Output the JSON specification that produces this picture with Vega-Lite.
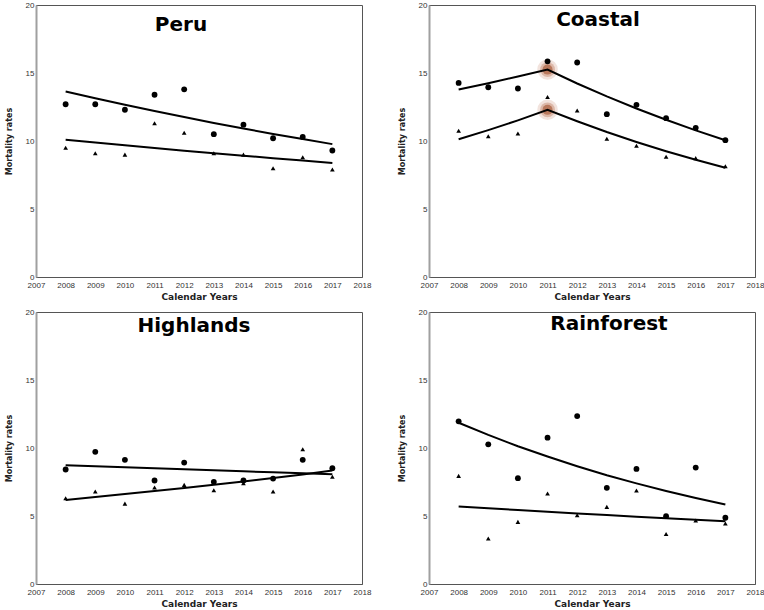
{
  "$schema": "https://vega.github.io/schema/vega-lite/v6.json",
  "padding": {"left": 4, "top": 0, "right": 5, "bottom": 3},
  "bounds": "flush",
  "columns": 2,
  "spacing": {"row": 35, "column": 67},
  "datasets": {
    "rates": [
      {"region":"Peru","year":2008,"series":"circle","rate":12.7,"fit":13.64},
      {"region":"Peru","year":2009,"series":"circle","rate":12.7,"fit":13.14},
      {"region":"Peru","year":2010,"series":"circle","rate":12.3,"fit":12.67},
      {"region":"Peru","year":2011,"series":"circle","rate":13.4,"fit":12.21},
      {"region":"Peru","year":2012,"series":"circle","rate":13.8,"fit":11.76},
      {"region":"Peru","year":2013,"series":"circle","rate":10.5,"fit":11.33},
      {"region":"Peru","year":2014,"series":"circle","rate":11.2,"fit":10.92},
      {"region":"Peru","year":2015,"series":"circle","rate":10.2,"fit":10.52},
      {"region":"Peru","year":2016,"series":"circle","rate":10.3,"fit":10.14},
      {"region":"Peru","year":2017,"series":"circle","rate":9.3,"fit":9.77},
      {"region":"Peru","year":2008,"series":"triangle","rate":9.5,"fit":10.09},
      {"region":"Peru","year":2009,"series":"triangle","rate":9.1,"fit":9.89},
      {"region":"Peru","year":2010,"series":"triangle","rate":9.0,"fit":9.68},
      {"region":"Peru","year":2011,"series":"triangle","rate":11.3,"fit":9.49},
      {"region":"Peru","year":2012,"series":"triangle","rate":10.6,"fit":9.29},
      {"region":"Peru","year":2013,"series":"triangle","rate":9.1,"fit":9.10},
      {"region":"Peru","year":2014,"series":"triangle","rate":9.0,"fit":8.92},
      {"region":"Peru","year":2015,"series":"triangle","rate":8.0,"fit":8.74},
      {"region":"Peru","year":2016,"series":"triangle","rate":8.8,"fit":8.56},
      {"region":"Peru","year":2017,"series":"triangle","rate":7.9,"fit":8.39},
      {"region":"Coastal","year":2008,"series":"circle","rate":14.27,"fit":13.78},
      {"region":"Coastal","year":2009,"series":"circle","rate":13.95,"fit":14.25},
      {"region":"Coastal","year":2010,"series":"circle","rate":13.86,"fit":14.74},
      {"region":"Coastal","year":2011,"series":"circle","rate":15.86,"fit":15.25},
      {"region":"Coastal","year":2012,"series":"circle","rate":15.77,"fit":14.23},
      {"region":"Coastal","year":2013,"series":"circle","rate":11.97,"fit":13.28},
      {"region":"Coastal","year":2014,"series":"circle","rate":12.66,"fit":12.39},
      {"region":"Coastal","year":2015,"series":"circle","rate":11.68,"fit":11.56},
      {"region":"Coastal","year":2016,"series":"circle","rate":10.97,"fit":10.78},
      {"region":"Coastal","year":2017,"series":"circle","rate":10.06,"fit":10.06},
      {"region":"Coastal","year":2008,"series":"triangle","rate":10.75,"fit":10.13},
      {"region":"Coastal","year":2009,"series":"triangle","rate":10.35,"fit":10.80},
      {"region":"Coastal","year":2010,"series":"triangle","rate":10.55,"fit":11.52},
      {"region":"Coastal","year":2011,"series":"triangle","rate":13.24,"fit":12.29},
      {"region":"Coastal","year":2012,"series":"triangle","rate":12.24,"fit":11.45},
      {"region":"Coastal","year":2013,"series":"triangle","rate":10.16,"fit":10.66},
      {"region":"Coastal","year":2014,"series":"triangle","rate":9.65,"fit":9.93},
      {"region":"Coastal","year":2015,"series":"triangle","rate":8.84,"fit":9.25},
      {"region":"Coastal","year":2016,"series":"triangle","rate":8.74,"fit":8.62},
      {"region":"Coastal","year":2017,"series":"triangle","rate":8.15,"fit":8.03},
      {"region":"Highlands","year":2008,"series":"circle","rate":8.42,"fit":8.74},
      {"region":"Highlands","year":2009,"series":"circle","rate":9.72,"fit":8.66},
      {"region":"Highlands","year":2010,"series":"circle","rate":9.13,"fit":8.59},
      {"region":"Highlands","year":2011,"series":"circle","rate":7.61,"fit":8.51},
      {"region":"Highlands","year":2012,"series":"circle","rate":8.93,"fit":8.44},
      {"region":"Highlands","year":2013,"series":"circle","rate":7.51,"fit":8.36},
      {"region":"Highlands","year":2014,"series":"circle","rate":7.61,"fit":8.29},
      {"region":"Highlands","year":2015,"series":"circle","rate":7.75,"fit":8.21},
      {"region":"Highlands","year":2016,"series":"circle","rate":9.13,"fit":8.14},
      {"region":"Highlands","year":2017,"series":"circle","rate":8.52,"fit":8.07},
      {"region":"Highlands","year":2008,"series":"triangle","rate":6.31,"fit":6.18},
      {"region":"Highlands","year":2009,"series":"triangle","rate":6.8,"fit":6.39},
      {"region":"Highlands","year":2010,"series":"triangle","rate":5.91,"fit":6.61},
      {"region":"Highlands","year":2011,"series":"triangle","rate":7.09,"fit":6.83},
      {"region":"Highlands","year":2012,"series":"triangle","rate":7.29,"fit":7.06},
      {"region":"Highlands","year":2013,"series":"triangle","rate":6.9,"fit":7.30},
      {"region":"Highlands","year":2014,"series":"triangle","rate":7.41,"fit":7.54},
      {"region":"Highlands","year":2015,"series":"triangle","rate":6.8,"fit":7.80},
      {"region":"Highlands","year":2016,"series":"triangle","rate":9.91,"fit":8.06},
      {"region":"Highlands","year":2017,"series":"triangle","rate":7.88,"fit":8.34},
      {"region":"Rainforest","year":2008,"series":"circle","rate":11.96,"fit":11.86},
      {"region":"Rainforest","year":2009,"series":"circle","rate":10.27,"fit":10.96},
      {"region":"Rainforest","year":2010,"series":"circle","rate":7.78,"fit":10.13},
      {"region":"Rainforest","year":2011,"series":"circle","rate":10.76,"fit":9.37},
      {"region":"Rainforest","year":2012,"series":"circle","rate":12.35,"fit":8.66},
      {"region":"Rainforest","year":2013,"series":"circle","rate":7.07,"fit":8.00},
      {"region":"Rainforest","year":2014,"series":"circle","rate":8.46,"fit":7.40},
      {"region":"Rainforest","year":2015,"series":"circle","rate":4.99,"fit":6.84},
      {"region":"Rainforest","year":2016,"series":"circle","rate":8.56,"fit":6.32},
      {"region":"Rainforest","year":2017,"series":"circle","rate":4.87,"fit":5.84},
      {"region":"Rainforest","year":2008,"series":"triangle","rate":7.95,"fit":5.70},
      {"region":"Rainforest","year":2009,"series":"triangle","rate":3.35,"fit":5.57},
      {"region":"Rainforest","year":2010,"series":"triangle","rate":4.57,"fit":5.44},
      {"region":"Rainforest","year":2011,"series":"triangle","rate":6.65,"fit":5.31},
      {"region":"Rainforest","year":2012,"series":"triangle","rate":5.06,"fit":5.19},
      {"region":"Rainforest","year":2013,"series":"triangle","rate":5.67,"fit":5.07},
      {"region":"Rainforest","year":2014,"series":"triangle","rate":6.87,"fit":4.95},
      {"region":"Rainforest","year":2015,"series":"triangle","rate":3.67,"fit":4.84},
      {"region":"Rainforest","year":2016,"series":"triangle","rate":4.67,"fit":4.73},
      {"region":"Rainforest","year":2017,"series":"triangle","rate":4.45,"fit":4.62}
    ],
    "joints": [
      {"region":"Coastal","year":2011,"fit":15.25},
      {"region":"Coastal","year":2011,"fit":12.29}
    ]
  },
  "concat": [
    {
      "width": 326, "height": 272,
      "title": {"text": "Peru", "dx": -18, "offset": -34},
      "data": {"name": "rates"},
      "transform": [{"filter": "datum.region === 'Peru'"}],
      "encoding": {
        "x": {"field": "year", "type": "quantitative", "scale": {"domain": [2007, 2018], "nice": false}, "axis": {"values": [2007,2008,2009,2010,2011,2012,2013,2014,2015,2016,2017,2018], "format": "d", "title": "Calendar Years"}},
        "y": {"field": "rate", "type": "quantitative", "scale": {"domain": [0, 20], "nice": false}, "axis": {"values": [0,5,10,15,20], "title": "Mortality rates"}}
      },
      "layer": [
        {"mark": {"type": "line", "color": "#000", "strokeWidth": 2}, "encoding": {"y": {"field": "fit", "type": "quantitative"}, "detail": {"field": "series"}}},
        {"mark": {"type": "point", "filled": true, "color": "#000", "opacity": 1}, "encoding": {
          "shape": {"field": "series", "type": "nominal", "scale": {"domain": ["circle","triangle"], "range": ["circle","triangle-up"]}, "legend": null},
          "size": {"field": "series", "type": "nominal", "scale": {"domain": ["circle","triangle"], "range": [34, 22]}, "legend": null}}}
      ]
    },
    {
      "width": 326, "height": 272,
      "title": {"text": "Coastal", "dx": 6, "offset": -29},
      "encoding": {
        "x": {"field": "year", "type": "quantitative", "scale": {"domain": [2007, 2018], "nice": false}, "axis": {"values": [2007,2008,2009,2010,2011,2012,2013,2014,2015,2016,2017,2018], "format": "d", "title": "Calendar Years"}},
        "y": {"field": "rate", "type": "quantitative", "scale": {"domain": [0, 20], "nice": false}, "axis": {"values": [0,5,10,15,20], "title": "Mortality rates"}}
      },
      "layer": [
        {"data": {"name": "joints"}, "mark": {"type": "circle", "color": "#a5461c", "opacity": 0.15, "size": 420}, "encoding": {"y": {"field": "fit", "type": "quantitative"}}},
        {"data": {"name": "joints"}, "mark": {"type": "circle", "color": "#a5461c", "opacity": 0.28, "size": 220}, "encoding": {"y": {"field": "fit", "type": "quantitative"}}},
        {"data": {"name": "joints"}, "mark": {"type": "circle", "color": "#963a12", "opacity": 0.5, "size": 100}, "encoding": {"y": {"field": "fit", "type": "quantitative"}}},
        {"data": {"name": "rates"}, "transform": [{"filter": "datum.region === 'Coastal'"}], "mark": {"type": "line", "color": "#000", "strokeWidth": 2}, "encoding": {"y": {"field": "fit", "type": "quantitative"}, "detail": {"field": "series"}}},
        {"data": {"name": "rates"}, "transform": [{"filter": "datum.region === 'Coastal'"}], "mark": {"type": "point", "filled": true, "color": "#000", "opacity": 1}, "encoding": {
          "shape": {"field": "series", "type": "nominal", "scale": {"domain": ["circle","triangle"], "range": ["circle","triangle-up"]}, "legend": null},
          "size": {"field": "series", "type": "nominal", "scale": {"domain": ["circle","triangle"], "range": [34, 22]}, "legend": null}}}
      ]
    },
    {
      "width": 326, "height": 272,
      "title": {"text": "Highlands", "dx": -5, "offset": -28},
      "data": {"name": "rates"},
      "transform": [{"filter": "datum.region === 'Highlands'"}],
      "encoding": {
        "x": {"field": "year", "type": "quantitative", "scale": {"domain": [2007, 2018], "nice": false}, "axis": {"values": [2007,2008,2009,2010,2011,2012,2013,2014,2015,2016,2017,2018], "format": "d", "title": "Calendar Years"}},
        "y": {"field": "rate", "type": "quantitative", "scale": {"domain": [0, 20], "nice": false}, "axis": {"values": [0,5,10,15,20], "title": "Mortality rates"}}
      },
      "layer": [
        {"mark": {"type": "line", "color": "#000", "strokeWidth": 2}, "encoding": {"y": {"field": "fit", "type": "quantitative"}, "detail": {"field": "series"}}},
        {"mark": {"type": "point", "filled": true, "color": "#000", "opacity": 1}, "encoding": {
          "shape": {"field": "series", "type": "nominal", "scale": {"domain": ["circle","triangle"], "range": ["circle","triangle-up"]}, "legend": null},
          "size": {"field": "series", "type": "nominal", "scale": {"domain": ["circle","triangle"], "range": [34, 22]}, "legend": null}}}
      ]
    },
    {
      "width": 326, "height": 272,
      "title": {"text": "Rainforest", "dx": 17, "offset": -26},
      "data": {"name": "rates"},
      "transform": [{"filter": "datum.region === 'Rainforest'"}],
      "encoding": {
        "x": {"field": "year", "type": "quantitative", "scale": {"domain": [2007, 2018], "nice": false}, "axis": {"values": [2007,2008,2009,2010,2011,2012,2013,2014,2015,2016,2017,2018], "format": "d", "title": "Calendar Years"}},
        "y": {"field": "rate", "type": "quantitative", "scale": {"domain": [0, 20], "nice": false}, "axis": {"values": [0,5,10,15,20], "title": "Mortality rates"}}
      },
      "layer": [
        {"mark": {"type": "line", "color": "#000", "strokeWidth": 2}, "encoding": {"y": {"field": "fit", "type": "quantitative"}, "detail": {"field": "series"}}},
        {"mark": {"type": "point", "filled": true, "color": "#000", "opacity": 1}, "encoding": {
          "shape": {"field": "series", "type": "nominal", "scale": {"domain": ["circle","triangle"], "range": ["circle","triangle-up"]}, "legend": null},
          "size": {"field": "series", "type": "nominal", "scale": {"domain": ["circle","triangle"], "range": [34, 22]}, "legend": null}}}
      ]
    }
  ],
  "config": {
    "view": {"stroke": "#555", "strokeWidth": 1},
    "axis": {"grid": false, "ticks": false, "labelFont": "Liberation Sans", "labelFontSize": 8, "labelColor": "#333", "titleFont": "DejaVu Sans", "titleFontWeight": "bold", "titleColor": "#222", "domainColor": "#555", "labelFlush": false},
    "axisX": {"labelPadding": 4, "titleFontSize": 9, "titlePadding": 3},
    "axisY": {"domainColor": "#a0a0a0", "domainWidth": 2, "labelPadding": 2, "titleFontSize": 8, "titlePadding": 12},
    "title": {"font": "DejaVu Sans", "fontSize": 20, "fontWeight": "bold", "color": "#000", "frame": "group", "anchor": "middle", "baseline": "alphabetic"}
  }
}
